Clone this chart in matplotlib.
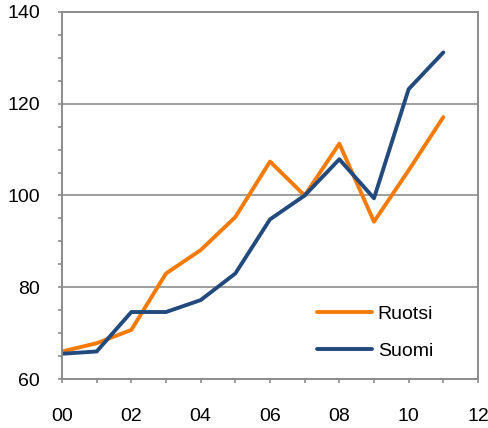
import matplotlib
matplotlib.use("Agg")
import matplotlib.pyplot as plt
from matplotlib.ticker import MultipleLocator, FixedLocator

years = [0, 1, 2, 3, 4, 5, 6, 7, 8, 9, 10, 11]
ruotsi = [66.0, 67.8, 70.7, 83.0, 88.1, 95.3, 107.4, 100.0, 111.3, 94.3, 105.5, 117.1]
suomi = [65.5, 66.0, 74.6, 74.6, 77.2, 83.0, 94.8, 100.0, 107.9, 99.4, 123.2, 131.2]
xtick_vals = [0, 2, 4, 6, 8, 10, 12]
xtick_labels = ["00", "02", "04", "06", "08", "10", "12"]
ytick_vals = [60, 80, 100, 120, 140]

plt.rcParams["font.family"] = ["Liberation Sans", "DejaVu Sans"]

fig = plt.figure(figsize=(4.88, 4.28), dpi=100)
ax = fig.add_axes([62/488, 1-379/428, (478-62)/488, (379-12)/428])

orange = "#F47B0A"
blue = "#234A7C"
gray = "#8C8C8C"

ax.plot(years, ruotsi, color=orange, lw=2.8, label="Ruotsi", solid_capstyle="round")
ax.plot(years, suomi, color=blue, lw=2.8, label="Suomi", solid_capstyle="round")

ax.set_xlim(0, 12)
ax.set_ylim(60, 140)
ax.xaxis.set_major_locator(FixedLocator(xtick_vals))
ax.set_xticklabels(xtick_labels)
ax.xaxis.set_minor_locator(MultipleLocator(1))
ax.yaxis.set_major_locator(FixedLocator(ytick_vals))
ax.yaxis.set_minor_locator(MultipleLocator(5))
ax.grid(axis="y", which="major", color=gray, lw=1.2)
ax.set_axisbelow(True)
for s in ax.spines.values():
    s.set_color(gray)
    s.set_linewidth(1.4)
ax.tick_params(axis="both", which="both", direction="out", color=gray, width=1.2, length=3)
ax.tick_params(axis="x", which="major", pad=18, labelsize=14)
ax.tick_params(axis="y", which="major", pad=13, labelsize=14)

leg = ax.legend(loc="upper left", bbox_to_anchor=(0.612, 0.200), frameon=False,
                fontsize=14, handlelength=2.83, handletextpad=0.31, labelspacing=1.0,
                borderaxespad=0.0, borderpad=0.0)

fig.savefig("out.png", dpi=100)
